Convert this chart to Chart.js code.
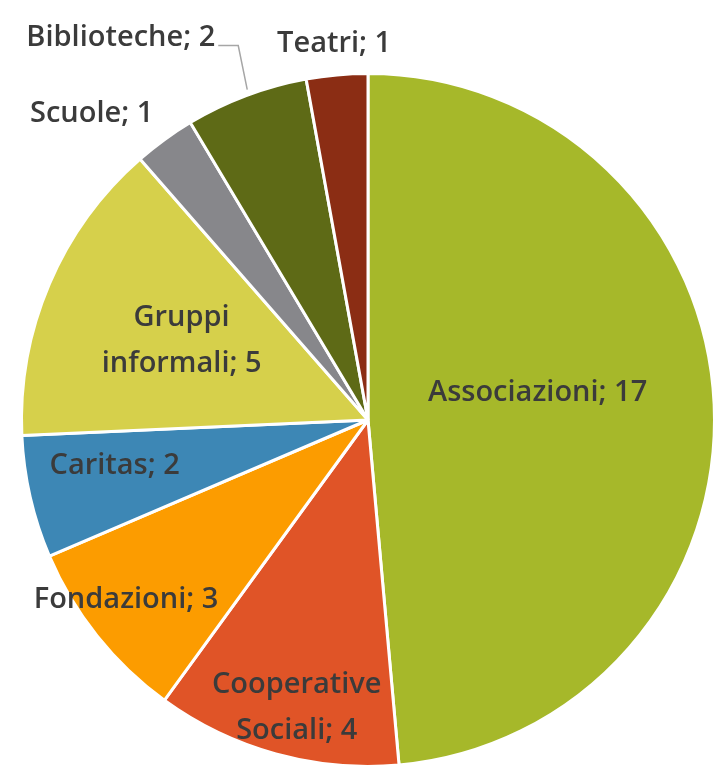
<!DOCTYPE html>
<html>
<head>
<meta charset="utf-8">
<script src="https://cdn.jsdelivr.net/npm/chart.js@4"></script>
<style>
html,body{margin:0;padding:0;background:#fff;overflow:hidden;width:716px;height:767px;}
#wrap{position:absolute;left:0;top:0;width:736px;height:840px;}
</style>
</head>
<body>
<div id="wrap"><canvas id="c"></canvas></div>
<script>
const categories = ["Associazioni","Cooperative Sociali","Fondazioni","Caritas","Gruppi informali","Scuole","Biblioteche","Teatri"];
const values = [17,4,3,2,5,1,2,1];
const colors = ["#A6B82A","#E05427","#FC9C00","#3D87B5","#D6D04B","#87878B","#5E6A16","#8B2D14"];

// label layout: lines, radius factor, extra offset, leader line
const labelLayout = [
  {lines:["Associazioni; 17"], r:0.49, dx:0, dy:-20},
  {lines:["Cooperative","Sociali; 4"], r:0.86, dx:8, dy:0},
  {lines:["Fondazioni; 3"], r:0.86, dx:-9, dy:-6},
  {lines:["Caritas; 2"], r:0.75, dx:0, dy:-12},
  {lines:["Gruppi","informali; 5"], r:0.585, dx:0, dy:0},
  {lines:["Scuole; 1"], r:1.19, dx:-34, dy:27},
  {lines:["Biblioteche; 2"], r:1.0, dx:0, dy:0, leader:true},
  {lines:["Teatri; 1"], r:1.09, dx:0, dy:0}
];

const labelPlugin = {
  id:'labels',
  afterDatasetsDraw(chart){
    const ctx = chart.ctx;
    const meta = chart.getDatasetMeta(0);
    ctx.save();
    ctx.font = '600 29px "Open Sans", Lato, sans-serif';
    ctx.fillStyle = '#3B3B3B';
    ctx.textBaseline = 'middle';
    meta.data.forEach((arc,i)=>{
      const p = arc.getProps(['x','y','startAngle','endAngle','outerRadius'],true);
      const mid = (p.startAngle+p.endAngle)/2;
      const L = labelLayout[i];
      const R = p.outerRadius;
      if(L.leader){
        const ex = p.x + Math.cos(mid)*R, ey = p.y + Math.sin(mid)*R;
        const kx = ex - 8, ky = ey - 50;
        const tx = kx - 20;
        ctx.strokeStyle = '#A6A6A6';
        ctx.lineWidth = 1.5;
        ctx.beginPath();
        ctx.moveTo(ex+1, ey-6);
        ctx.lineTo(kx, ky);
        ctx.lineTo(tx, ky);
        ctx.stroke();
        ctx.textAlign = 'right';
        ctx.fillText(L.lines[0], tx-3, ky-8);
        return;
      }
      const cx = p.x + Math.cos(mid)*R*L.r + L.dx;
      const cy = p.y + Math.sin(mid)*R*L.r + L.dy;
      ctx.textAlign = 'center';
      const lh = 46;
      const n = L.lines.length;
      L.lines.forEach((t,k)=>{
        ctx.fillText(t, cx, cy + (k-(n-1)/2)*lh);
      });
    });
    ctx.restore();
  }
};

new Chart(document.getElementById('c'), {
  type:'pie',
  data:{
    labels:categories,
    datasets:[{data:values, backgroundColor:colors, borderColor:'#ffffff', borderWidth:3}]
  },
  options:{
    responsive:true,
    maintainAspectRatio:false,
    animation:false,
    layout:{padding:20},
    plugins:{legend:{display:false}, tooltip:{enabled:false}}
  },
  plugins:[labelPlugin]
});
</script>
</body>
</html>
